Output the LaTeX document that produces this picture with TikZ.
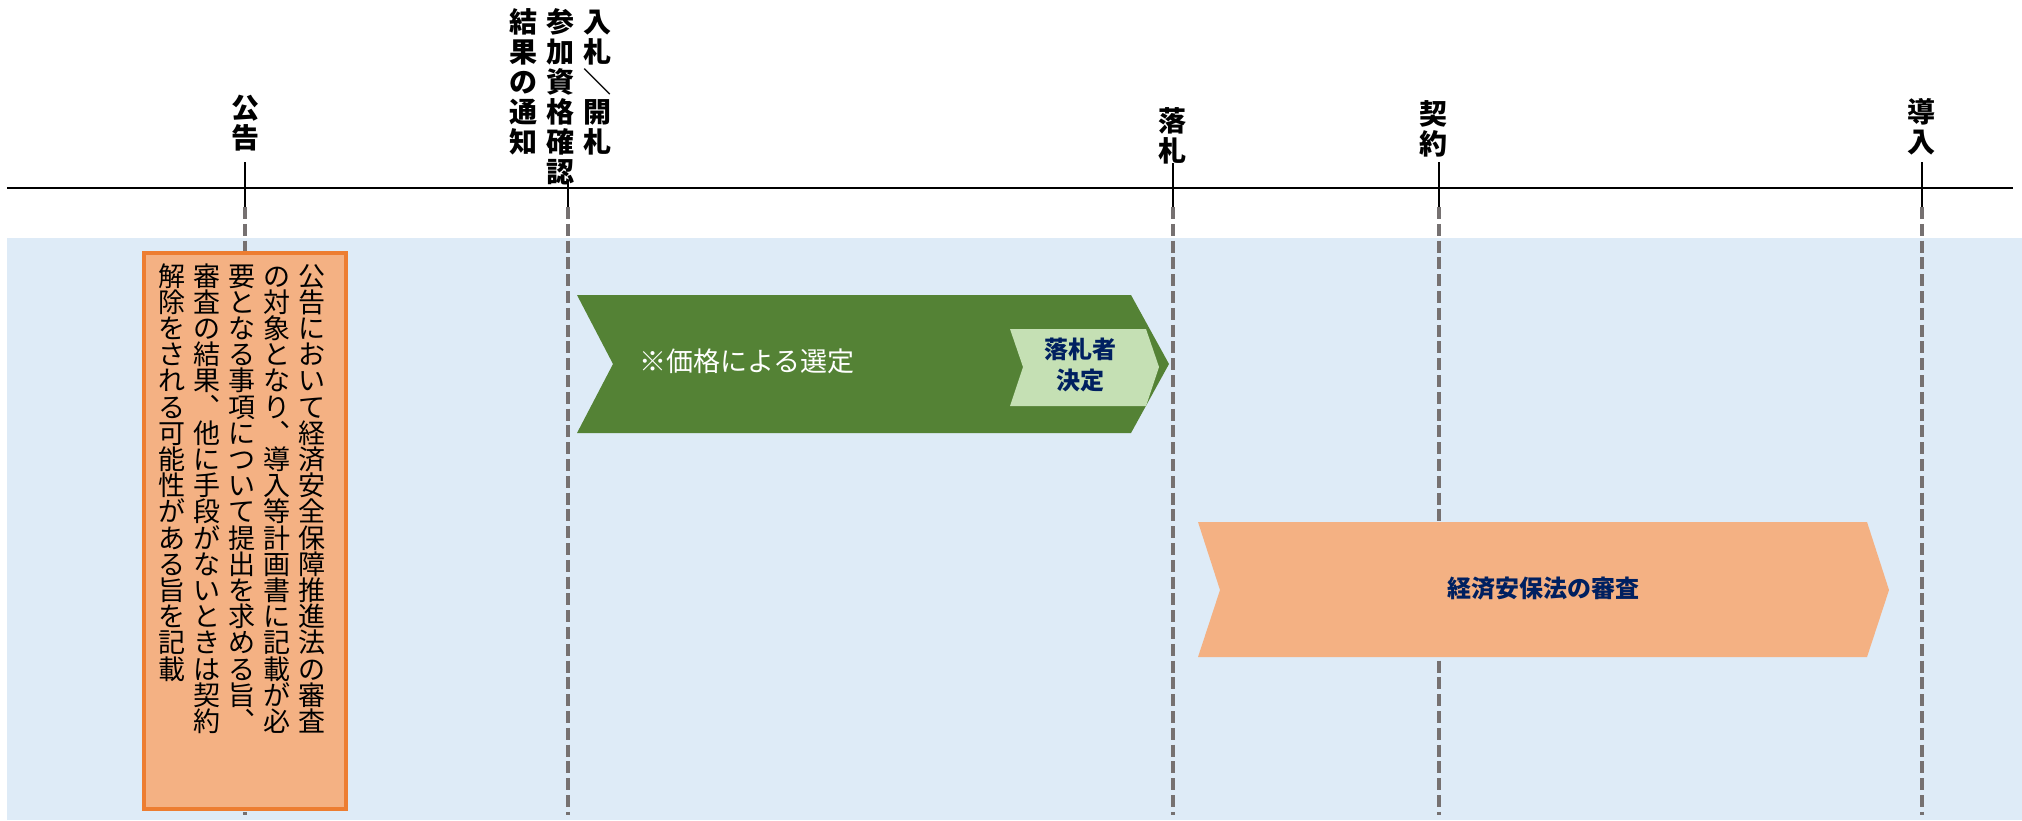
\documentclass[tikz,border=0pt]{standalone}
\usepackage{fontspec}
\setmainfont{Noto Sans CJK JP}
\usetikzlibrary{positioning}

\definecolor{bgblue}{HTML}{DEEBF7}
\definecolor{chevgreen}{HTML}{548235}
\definecolor{lightgreen}{HTML}{C5E0B4}
\definecolor{peach}{HTML}{F4B183}
\definecolor{orangeline}{HTML}{ED7D31}
\definecolor{navy}{HTML}{002060}
\definecolor{dashgray}{HTML}{767171}

% vertical (tategaki) column: one character per line
\makeatletter
\newcommand{\tatechar}{\hbox to 1em{\hss\tch\hss}}
\newcommand{\tatecol}[1]{\vtop{\lineskiplimit=-100pt\@tfor\tch:=#1\do{\tatechar}}}
\makeatother

\begin{document}
\begin{tikzpicture}[
    x=0.5pt, y=-0.5pt, % 1 unit = 1 px of the layout
    % --- STYLES ---
    timeline/.style={line width=1.2pt, black},
    tickline/.style={line width=1pt, black},
    guide/.style={line width=2pt, dashgray, dash pattern=on 6pt off 2.4pt},
    toplabel/.style={inner sep=0pt, font=\fontsize{14}{15}\selectfont\bfseries},
    noticebox/.style={draw=orangeline, line width=2pt, fill=peach, minimum width=101pt, minimum height=278pt, inner sep=0pt},
    boxtext/.style={inner sep=0pt, font=\fontsize{13.5}{13.1}\selectfont},
    navytext/.style={inner sep=0pt, text=navy, align=center, font=\fontsize{12}{15.5}\selectfont\bfseries}
]
\useasboundingbox (0,0) rectangle (2022,820);

% --- BACKGROUND ---
\fill[bgblue] (7,238) rectangle (2022,820);

% --- GUIDE LINES (dashed) ---
\foreach \name/\x/\top in {kokoku/245/162, nyusatsu/568/182, rakusatsu/1173/163, keiyaku/1439/162, donyu/1922/162}{
  \coordinate (\name_top) at (\x,\top);
  \coordinate (\name_mid) at (\x,207);
  \coordinate (\name_bot) at (\x,815);
  \draw[guide] (\name_mid) -- (\name_bot);
}

% --- PHASES ---
\fill[chevgreen] (577,295) -- (1131,295) -- (1169,364) -- (1131,433) -- (577,433) -- (613,364) -- cycle;
\fill[lightgreen] (1010,329) -- (1146,329) -- (1159,367) -- (1146,406) -- (1010,406) -- (1023,367) -- cycle;
\fill[peach] (1198,522) -- (1867,522) -- (1889,590) -- (1867,657) -- (1198,657) -- (1220,590) -- cycle;

\node (select_text) [inner sep=0pt, text=white, font=\fontsize{13.5}{16}\selectfont] at (747,361) {※価格による選定};
\node (winner_text) [navytext] at (1080,365) {落札者\\決定};
\node (review_text) [navytext] at (1543,588) {経済安保法の審査};

% --- NOTICE BOX ---
\node (kokoku_box) [noticebox] at (245,531) {};
\node (kokoku_text) [boxtext, below=6pt of kokoku_box.north, xshift=-1.5pt] {%
  \tatecol{解除をされる可能性がある旨を記載}\hspace{4pt}%
  \tatecol{審査の結果︑他に手段がないときは契約}\hspace{4pt}%
  \tatecol{要となる事項について提出を求める旨︑}\hspace{4pt}%
  \tatecol{の対象となり︑導入等計画書に記載が必}\hspace{4pt}%
  \tatecol{公告において経済安全保障推進法の審査}};

% --- TIMELINE ---
\coordinate (line_start) at (7,188);
\coordinate (line_end) at (2013,188);
\draw[timeline] (line_start) -- (line_end);
\foreach \name in {kokoku, nyusatsu, rakusatsu, keiyaku, donyu}{
  \draw[tickline] (\name_top) -- (\name_mid);
}

% --- MILESTONE LABELS ---
\node (lbl_kokoku) [toplabel, anchor=north] at (245,95) {\tatecol{公告}};
\node (lbl_nyusatsu) [toplabel, anchor=north] at (560,8) {%
  \tatecol{結果の通知}\hspace{4.5pt}%
  \tatecol{参加資格確認}\hspace{4.5pt}%
  \tatecol{入札＼開札}};
\node (lbl_rakusatsu) [toplabel, anchor=north] at (1172,107) {\tatecol{落札}};
\node (lbl_keiyaku) [toplabel, anchor=north] at (1433,100) {\tatecol{契約}};
\node (lbl_donyu) [toplabel, anchor=north] at (1921,98) {\tatecol{導入}};

\end{tikzpicture}
\end{document}
